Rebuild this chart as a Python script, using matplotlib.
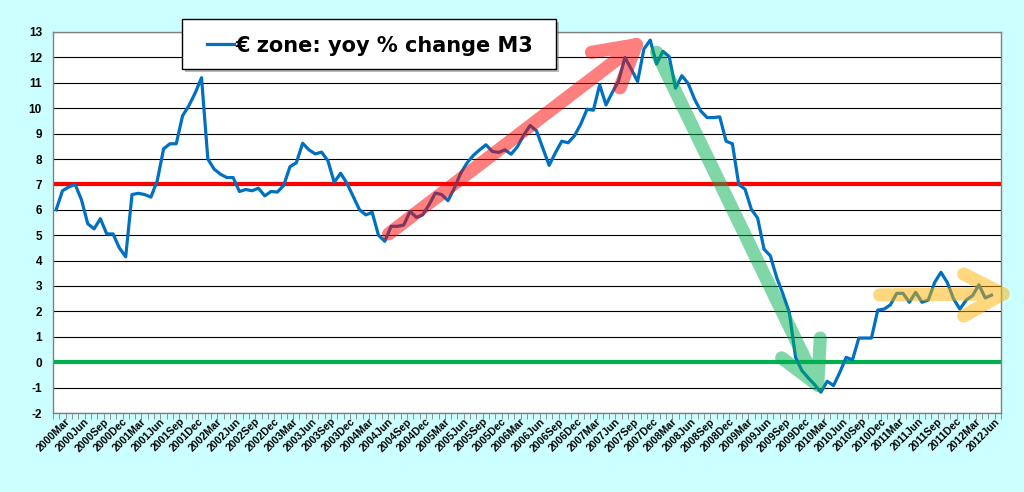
import numpy as np
import matplotlib
matplotlib.use("Agg")
import matplotlib.pyplot as plt
from matplotlib.path import Path
from matplotlib.patches import PathPatch, Rectangle
from matplotlib.lines import Line2D

plt.rcParams['axes.unicode_minus'] = False

# euro zone M3, yoy % change, monthly from 2000Jan
y2000 = [6.0, 6.75, 6.9, 7.0, 6.4, 5.45, 5.25, 5.65, 5.05, 5.05, 4.5, 4.15]
y2001 = [6.6, 6.65, 6.6, 6.5, 7.15, 8.4, 8.6, 8.6, 9.7, 10.1, 10.6, 11.2]
y2002 = [8.0, 7.6, 7.4, 7.27, 7.27, 6.72, 6.8, 6.75, 6.85, 6.55, 6.72, 6.7]
y2003 = [6.96, 7.7, 7.85, 8.62, 8.36, 8.2, 8.27, 7.93, 7.08, 7.44, 7.05, 6.53]
y2004 = [6.0, 5.8, 5.9, 5.0, 4.76, 5.35, 5.35, 5.4, 5.94, 5.7, 5.8, 6.2]
y2005 = [6.66, 6.6, 6.36, 6.85, 7.44, 7.84, 8.14, 8.36, 8.56, 8.3, 8.26, 8.36]
y2006 = [8.19, 8.49, 8.95, 9.32, 9.11, 8.43, 7.75, 8.25, 8.7, 8.64, 8.91, 9.37]
y2007 = [9.96, 9.92, 10.92, 10.13, 10.62, 11.08, 12.0, 11.54, 11.05, 12.33, 12.68, 11.74]
y2008 = [12.24, 12.03, 10.79, 11.28, 10.97, 10.36, 9.89, 9.63, 9.63, 9.66, 8.7, 8.6]
y2009 = [7.0, 6.81, 6.02, 5.67, 4.45, 4.19, 3.34, 2.68, 1.96, 0.19, -0.33, -0.62]
y2010 = [-0.88, -1.18, -0.75, -0.92, -0.4, 0.19, 0.09, 0.95, 0.95, 0.95, 2.05, 2.09]
y2011 = [2.26, 2.71, 2.71, 2.36, 2.75, 2.36, 2.45, 3.14, 3.54, 3.14, 2.49, 2.09]
y2012 = [2.45, 2.62, 3.05, 2.53, 2.64]

yoy = (y2000 + y2001 + y2002 + y2003 + y2004 + y2005 + y2006 + y2007
       + y2008 + y2009 + y2010 + y2011 + y2012)

years = list(range(2000, 2013))
months = ['Jan', 'Feb', 'Mar', 'Apr', 'May', 'Jun',
          'Jul', 'Aug', 'Sep', 'Oct', 'Nov', 'Dec']
categories = [f"{y}{m}" for y in years for m in months][:150]  # up to 2012Jun

target = 7.0
zero = 0.0

# trend arrows (tail, tip, arm1, arm2) in (month index, value)
red_arrow = [(52.6, 5.05), (91.8, 12.5), (84.7, 12.2), (89.2, 10.8)]
green_arrow = [(95.0, 12.2), (120.5, -0.9), (114.8, 0.17), (120.9, 0.95)]
yellow_arrow = [(130.3, 2.65), (149.8, 2.69), (143.6, 3.47), (143.6, 1.82)]

fig = plt.figure(figsize=(10.24, 4.92), dpi=100, facecolor='#CCFFFF')
ax = fig.add_axes([53 / 1024, 79 / 492, 948 / 1024, 381 / 492])
ax.set_facecolor('white')

x = np.arange(len(yoy))
ax.set_xlim(-0.5, len(categories) - 0.5)
ax.set_ylim(-2, 13)
ax.set_yticks(range(-2, 14))
ax.grid(axis='y', color='black', lw=0.8)
ax.set_axisbelow(True)

ax.axhline(target, color='#FF0000', lw=3, zorder=2)
ax.axhline(zero, color='#00B050', lw=3, zorder=2)
ax.plot(x, yoy, color='#0070C0', lw=2.3, zorder=3)


def draw_arrow(pts, color):
    tail, tip, a1, a2 = pts
    path = Path([tail, tip, a1, tip, a2],
                [Path.MOVETO, Path.LINETO, Path.MOVETO, Path.LINETO, Path.LINETO])
    patch = PathPatch(path, facecolor='none', edgecolor=color, lw=9.5, alpha=0.5,
                      capstyle='round', joinstyle='round', clip_on=False, zorder=4)
    ax.add_patch(patch)


draw_arrow(red_arrow, '#FF0000')
draw_arrow(green_arrow, '#00B050')
draw_arrow(yellow_arrow, '#FFB000')

# axes styling
for s in ax.spines.values():
    s.set_color('#808080')
    s.set_linewidth(1)

label_pos = [i for i, c in enumerate(categories) if c[4:] in ('Mar', 'Jun', 'Sep', 'Dec')]
ax.set_xticks(label_pos)
ax.set_xticklabels([categories[i] for i in label_pos], rotation=45, ha='right',
                   va='center', rotation_mode='anchor',
                   fontsize=7.6, fontweight='bold', family='Liberation Sans')
ax.set_xticks(np.arange(-0.5, len(categories)), minor=True)
ax.tick_params(axis='x', which='major', length=0, pad=5)
ax.tick_params(axis='x', which='minor', length=4, color='#808080', direction='out')
ax.tick_params(axis='y', length=0, pad=8)
for t in ax.get_yticklabels():
    t.set_fontsize(8.5)
    t.set_fontweight('bold')
    t.set_family('Liberation Sans')

# legend box drawn by hand
shadow = Rectangle((185 / 1024, 1 - 72 / 492), 374 / 1024, 50 / 492,
                   transform=fig.transFigure, fc='#777777', ec='none', alpha=0.5, zorder=5)
box = Rectangle((182 / 1024, 1 - 69 / 492), 374 / 1024, 50 / 492,
                transform=fig.transFigure, fc='white', ec='black', lw=1, zorder=6)
fig.add_artist(shadow)
fig.add_artist(box)
fig.add_artist(Line2D([207 / 1024, 234 / 1024], [1 - 44 / 492] * 2,
                      transform=fig.transFigure, color='#0070C0', lw=2.3, zorder=7))
fig.text(235 / 1024, 1 - 52 / 492, '€ zone: yoy % change M3', fontsize=15,
         fontweight='bold', family='DejaVu Sans', va='baseline', ha='left', zorder=7)

fig.savefig('out.png', dpi=100, facecolor=fig.get_facecolor())
